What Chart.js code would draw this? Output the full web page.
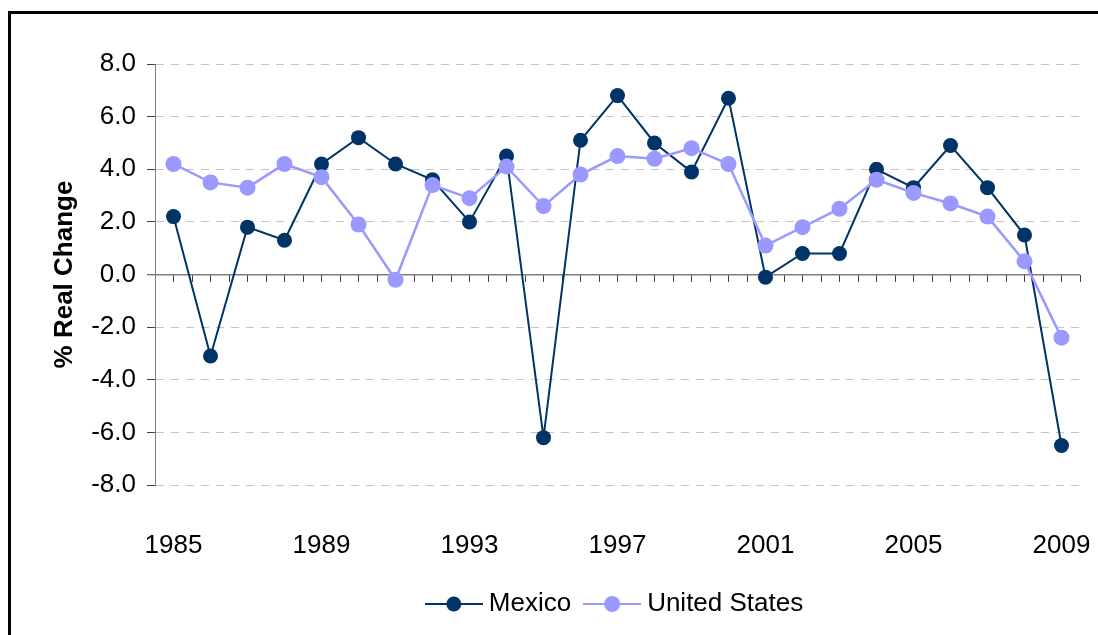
<!DOCTYPE html>
<html><head><meta charset="utf-8">
<script src="https://cdn.jsdelivr.net/npm/chart.js@4"></script>
<style>
html,body{margin:0;padding:0;background:#fff;overflow:hidden;}
#wrap{position:relative;width:1098px;height:635px;overflow:hidden;}
canvas{position:absolute;left:0;top:0;}
#frame{position:absolute;left:8px;top:11px;width:1200px;height:800px;border:3px solid #000;pointer-events:none;}
</style></head><body>
<div id="wrap"><canvas id="c" width="1098" height="635"></canvas><div id="frame"></div></div>
<script>
const years = ['1985','1986','1987','1988','1989','1990','1991','1992','1993','1994','1995','1996','1997','1998','1999','2000','2001','2002','2003','2004','2005','2006','2007','2008','2009'];
const xTickLabels = ['1985','1989','1993','1997','2001','2005','2009'];
const mexico = [2.2,-3.1,1.8,1.3,4.2,5.2,4.2,3.6,2.0,4.5,-6.2,5.1,6.8,5.0,3.9,6.7,-0.1,0.8,0.8,4.0,3.3,4.9,3.3,1.5,-6.5];
const unitedStates = [4.2,3.5,3.3,4.2,3.7,1.9,-0.2,3.4,2.9,4.1,2.6,3.8,4.5,4.4,4.8,4.2,1.1,1.8,2.5,3.6,3.1,2.7,2.2,0.5,-2.4];
const yMin = -8, yMax = 8, yStep = 2;
const seriesNames = ['Mexico','United States'];
const seriesColors = ['#003366','#9999FF'];

const FONT = "'Liberation Sans', Arial, sans-serif";

function legendIcon(color, r, lw) {
  const c = document.createElement('canvas');
  c.width = 58; c.height = 20;
  const g = c.getContext('2d');
  g.strokeStyle = color; g.lineWidth = lw;
  g.beginPath(); g.moveTo(0, 10); g.lineTo(58, 10); g.stroke();
  g.fillStyle = color;
  g.beginPath(); g.arc(29, 10, r, 0, Math.PI * 2); g.fill();
  return c;
}
const icons = [legendIcon(seriesColors[0], 7.5, 2), legendIcon(seriesColors[1], 8, 2)];

function zeroPad(s) { s.paddingLeft = 0; s.paddingRight = 0; s.paddingTop = 0; s.paddingBottom = 0; }

new Chart(document.getElementById('c'), {
  type: 'line',
  data: {
    labels: years,
    datasets: [
      { label: seriesNames[0], data: mexico, borderColor: seriesColors[0], backgroundColor: seriesColors[0],
        borderWidth: 2, pointRadius: 7.5, pointBorderWidth: 0, pointBackgroundColor: seriesColors[0], tension: 0, order: 2 },
      { label: seriesNames[1], data: unitedStates, borderColor: seriesColors[1], backgroundColor: seriesColors[1],
        borderWidth: 2.5, pointRadius: 8, pointBorderWidth: 0, pointBackgroundColor: seriesColors[1], tension: 0, order: 1 }
    ]
  },
  options: {
    responsive: false, animation: false, devicePixelRatio: 1,
    layout: { padding: { left: 12, right: 18, top: 64, bottom: 8 } },
    plugins: {
      tooltip: { enabled: false },
      legend: {
        position: 'bottom', fullSize: false,
        labels: {
          usePointStyle: true, pointStyleWidth: 44, padding: 19, color: '#000',
          font: { family: FONT, size: 26 },
          generateLabels: () => seriesNames.map((n, i) => ({
            text: n, pointStyle: icons[i], fillStyle: seriesColors[i], strokeStyle: seriesColors[i],
            lineWidth: 0, hidden: false, datasetIndex: i, fontColor: '#000'
          }))
        }
      }
    },
    scales: {
      x: {
        type: 'category', position: 'bottom', offset: true,
        grid: { display: false }, border: { display: false },
        ticks: { autoSkip: false, maxRotation: 0, minRotation: 0, padding: 37, color: '#000',
          font: { family: FONT, size: 26 },
          callback: (v, i) => xTickLabels.includes(years[i]) ? years[i] : '' },
        afterFit: (s) => { s.height = 87; s.paddingLeft = 0; s.paddingRight = 0; }
      },
      xMajor: {
        type: 'category', axis: 'x', position: { y: 0 }, offset: true,
        grid: { offset: true, drawOnChartArea: false, drawTicks: true, tickLength: 7, tickColor: '#404040', tickWidth: 1 },
        border: { display: false }, ticks: { display: false },
        afterFit: zeroPad
      },
      xMinor: {
        type: 'category', axis: 'x', position: { y: 0 }, offset: true,
        grid: { offset: false, drawOnChartArea: false, drawTicks: true, tickLength: 7, tickColor: '#404040', tickWidth: 1 },
        border: { display: false }, ticks: { display: false },
        afterFit: zeroPad
      },
      y: {
        type: 'linear', position: 'left', min: yMin, max: yMax,
        ticks: { stepSize: yStep, padding: 11, color: '#000', font: { family: FONT, size: 26 },
          callback: (v) => Number(v).toFixed(1) },
        grid: {
          color: (c) => (c.tick && c.tick.value === 0) ? '#7f7f7f' : '#c4c4c4',
          lineWidth: (c) => (c.tick && c.tick.value === 0) ? 1.5 : 1,
          drawTicks: true, tickLength: 8, tickColor: '#404040', tickWidth: 1
        },
        border: { display: true, color: '#7f7f7f', width: 1,
          dash: (c) => (c.tick && c.tick.value === 0) ? [] : [8, 7] },
        title: { display: true, text: '% Real Change', color: '#000',
          font: { family: FONT, size: 26, weight: 'bold' }, padding: { top: 37, bottom: 0 } },
        afterFit: (s) => { s.width = 143; }
      }
    }
  }
});
</script>
</body></html>
